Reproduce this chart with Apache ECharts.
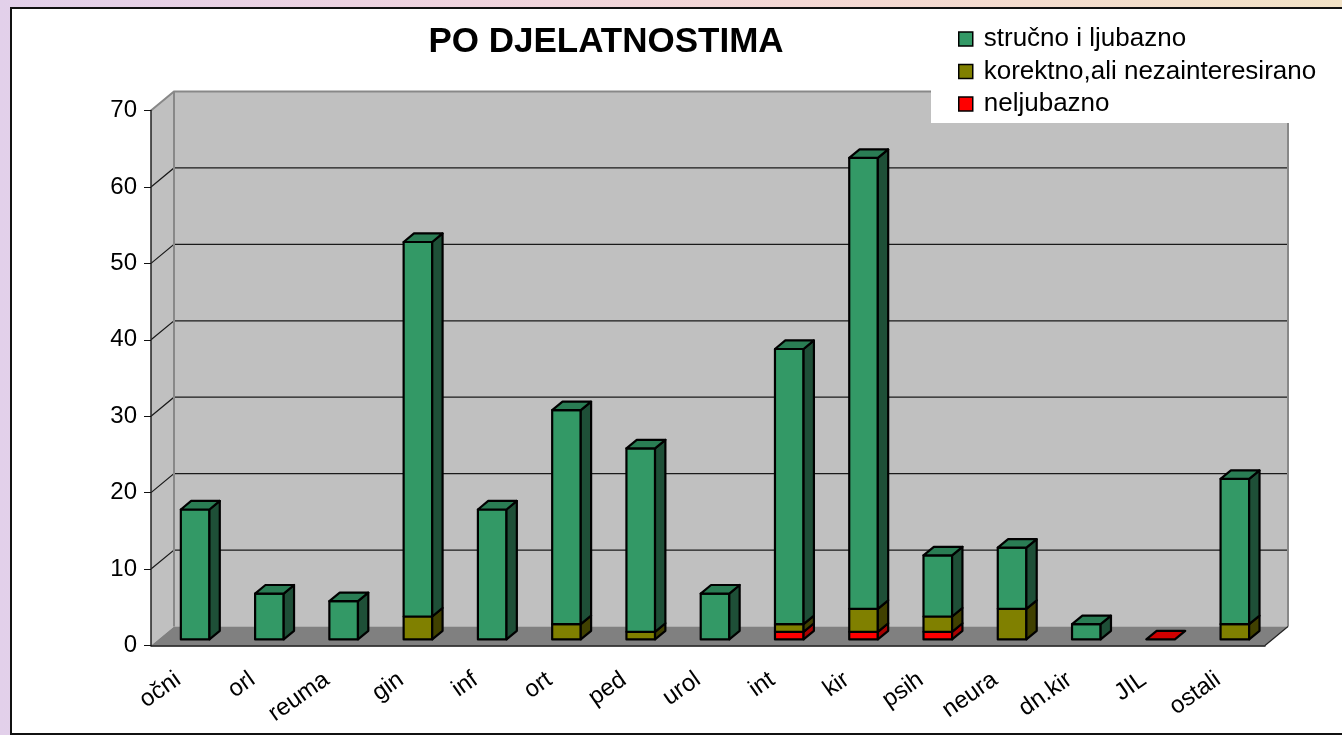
<!DOCTYPE html>
<html><head><meta charset="utf-8">
<script src="https://cdn.jsdelivr.net/npm/echarts@6/dist/echarts.min.js"></script>
<style>
html,body{margin:0;padding:0;width:1342px;height:735px;overflow:hidden;}
body{background:linear-gradient(90deg,#e2d0ea 0%,#f0d4de 35%,#f5d9d2 65%,#f2e2c6 100%);}
#box{position:absolute;left:10px;top:7px;width:1340px;height:724px;background:#fff;border:2px solid #111;border-right:none;}
#chart{position:absolute;left:0;top:0;width:1342px;height:735px;}
</style></head><body>
<div id="box"></div><div id="chart"></div>
<script>
// ---- data ----
const categories = ['očni','orl','reuma','gin','inf','ort','ped','urol','int','kir','psih','neura','dn.kir','JIL','ostali'];
const seriesNames = ['stručno i ljubazno','korektno,ali nezainteresirano','neljubazno'];
const strucno    = [17, 6, 5, 49, 17, 28, 24, 6, 36, 59, 8, 8, 2, null, 19];
const korektno   = [ 0, 0, 0,  3,  0,  2,  1, 0,  1,  3, 2, 4, 0, null,  2];
const neljubazno = [ 0, 0, 0,  0,  0,  0,  0, 0,  1,  1, 1, 0, 0,    0,  0];
const Y_MIN = 0, Y_MAX = 70, Y_STEP = 10;
const titleText = 'PO DJELATNOSTIMA';

// ---- style ----
const FONT = '"Liberation Sans", Arial, sans-serif';
const DEPTH = [23, -19];            // full 3D depth of the floor
const FRONT_F = 0.32, BACK_F = 0.77; // bar position inside depth
const BAR_FRAC = 0.385;
const palettes = {
  green: {front:'#339966', top:'#2a7d54', side:'#1e4f37'},
  olive: {front:'#808000', top:'#6a6a00', side:'#404000'},
  red:   {front:'#ff0000', top:'#d00000', side:'#a80000'}
};

// stack order bottom -> top
const stack = [
  {name: seriesNames[2], values: neljubazno, pal: palettes.red},
  {name: seriesNames[1], values: korektno, pal: palettes.olive},
  {name: seriesNames[0], values: strucno, pal: palettes.green}
];

const topLayer = categories.map((c, i) => {
  let t = -1;
  for (let s = 0; s < stack.length; s++) if (stack[s].values[i] != null && stack[s].values[i] > 0) t = s;
  if (t < 0) for (let s = 0; s < stack.length; s++) if (stack[s].values[i] != null) t = s;
  return t;
});
const bases = categories.map(() => 0);
const stackData = stack.map((layer, s) => {
  const out = [];
  layer.values.forEach((v, i) => {
    if (v == null) return;
    out.push([i, v, bases[i], topLayer[i] === s ? 1 : 0]);
    bases[i] += v;
  });
  return out;
});

function barRender(pal) {
  return function (params, api) {
    const i = api.value(0), v = api.value(1), base = api.value(2), isTop = api.value(3);
    const p0 = api.coord([i, base]), p1 = api.coord([i, base + v]);
    const bw = api.size([1, 0])[0];
    const w = bw * BAR_FRAC;
    const fy = DEPTH[1] * FRONT_F;
    const dx = DEPTH[0] * (BACK_F - FRONT_F), dy = DEPTH[1] * (BACK_F - FRONT_F);
    const xl = p0[0] + 7 - w / 2, xr = xl + w;
    const yb = p0[1] + fy, yt = p1[1] + fy;
    const ls = {stroke: '#000', lineWidth: 2.2, lineJoin: 'round'};
    const ch = [];
    if (v > 0) {
      ch.push({type: 'polygon', shape: {points: [[xl, yt], [xr, yt], [xr, yb], [xl, yb]]}, style: Object.assign({fill: pal.front}, ls)});
      ch.push({type: 'polygon', shape: {points: [[xr, yt], [xr + dx, yt + dy], [xr + dx, yb + dy], [xr, yb]]}, style: Object.assign({fill: pal.side}, ls)});
    }
    if (isTop) {
      ch.push({type: 'polygon', shape: {points: [[xl, yt], [xr, yt], [xr + dx, yt + dy], [xl + dx, yt + dy]]}, style: Object.assign({fill: pal.top}, ls)});
    }
    return {type: 'group', children: ch};
  };
}

function wallRender(params, api) {
  const bw = api.size([1, 0])[0];
  const a = api.coord([0, Y_MIN]), b = api.coord([categories.length - 1, Y_MIN]);
  const x0 = a[0] - bw / 2, x1 = b[0] + bw / 2, y0 = a[1];
  const yT = api.coord([0, Y_MAX])[1];
  const dx = DEPTH[0], dy = DEPTH[1];
  const ch = [];
  ch.push({type: 'polygon', shape: {points: [[x0, yT], [x0 + dx, yT + dy], [x0 + dx, y0 + dy], [x0, y0]]}, style: {fill: '#c0c0c0'}});
  ch.push({type: 'polygon', shape: {points: [[x0 + dx, yT + dy], [x1 + dx, yT + dy], [x1 + dx, y0 + dy], [x0 + dx, y0 + dy]]}, style: {fill: '#c0c0c0'}});
  ch.push({type: 'polygon', shape: {points: [[x0, y0], [x1, y0], [x1 + dx, y0 + dy], [x0 + dx, y0 + dy]]}, style: {fill: '#808080'}});
  for (let t = Y_MIN + Y_STEP; t < Y_MAX; t += Y_STEP) {
    const y = api.coord([0, t])[1];
    ch.push({type: 'polyline', shape: {points: [[x0, y], [x0 + dx, y + dy], [x1 + dx, y + dy]]}, style: {stroke: '#1a1a1a', lineWidth: 1.2, fill: null}});
  }
  const g = {stroke: '#888', lineWidth: 2, fill: null};
  ch.push({type: 'polyline', shape: {points: [[x0, yT], [x0 + dx, yT + dy], [x1 + dx, yT + dy], [x1 + dx, y0 + dy]]}, style: g});
  ch.push({type: 'polyline', shape: {points: [[x0 + dx, yT + dy], [x0 + dx, y0 + dy]]}, style: g});
  ch.push({type: 'polyline', shape: {points: [[x1, y0], [x1 + dx, y0 + dy]]}, style: {stroke: '#222', lineWidth: 1.2, fill: null}});
  return {type: 'group', children: ch};
}

const chart = echarts.init(document.getElementById('chart'), null, {renderer: 'canvas'});
chart.setOption({
  animation: false,
  grid: {left: 151, top: 110.5, width: 1114, height: 535, containLabel: false},
  graphic: [{
    type: 'text', x: 606, y: 42, z: 10,
    style: {text: titleText, font: 'bold 35px ' + FONT, fill: '#000', textAlign: 'center', textVerticalAlign: 'middle'}
  }],
  legend: {
    orient: 'vertical', left: 931, top: 16,
    padding: [10, 12, 6, 27], itemGap: 6.5, itemWidth: 14, itemHeight: 14,
    backgroundColor: '#fff',
    data: seriesNames,
    icon: 'rect',
    itemStyle: {borderColor: '#000', borderWidth: 1.5},
    textStyle: {fontFamily: FONT, fontSize: 26, color: '#000', padding: [0, 0, 0, 6]}
  },
  xAxis: {
    type: 'category', data: categories, boundaryGap: true, z: 5,
    axisLine: {lineStyle: {color: '#111', width: 1.5}},
    axisTick: {length: 8, lineStyle: {color: '#333', width: 1.5}},
    axisLabel: {rotate: 35, margin: 25, padding: [0, 12, 0, 0], fontFamily: FONT, fontSize: 24, color: '#000'}
  },
  yAxis: {
    type: 'value', min: Y_MIN, max: Y_MAX, interval: Y_STEP, z: 5,
    axisLine: {show: true, lineStyle: {color: '#222', width: 1.5}},
    axisTick: {show: true, length: 7, lineStyle: {color: '#111'}},
    splitLine: {show: false},
    axisLabel: {margin: 14, fontFamily: FONT, fontSize: 24, color: '#000'}
  },
  series: [
    {type: 'custom', name: '_walls', silent: true, z: 1, renderItem: wallRender, data: [[0, 0]]},
    ...stack.map((layer, s) => ({
      type: 'custom', name: layer.name, z: 2 + s,
      itemStyle: {color: layer.pal.front, borderColor: '#000'},
      renderItem: barRender(layer.pal),
      data: stackData[s]
    }))
  ]
});
</script>
</body></html>
